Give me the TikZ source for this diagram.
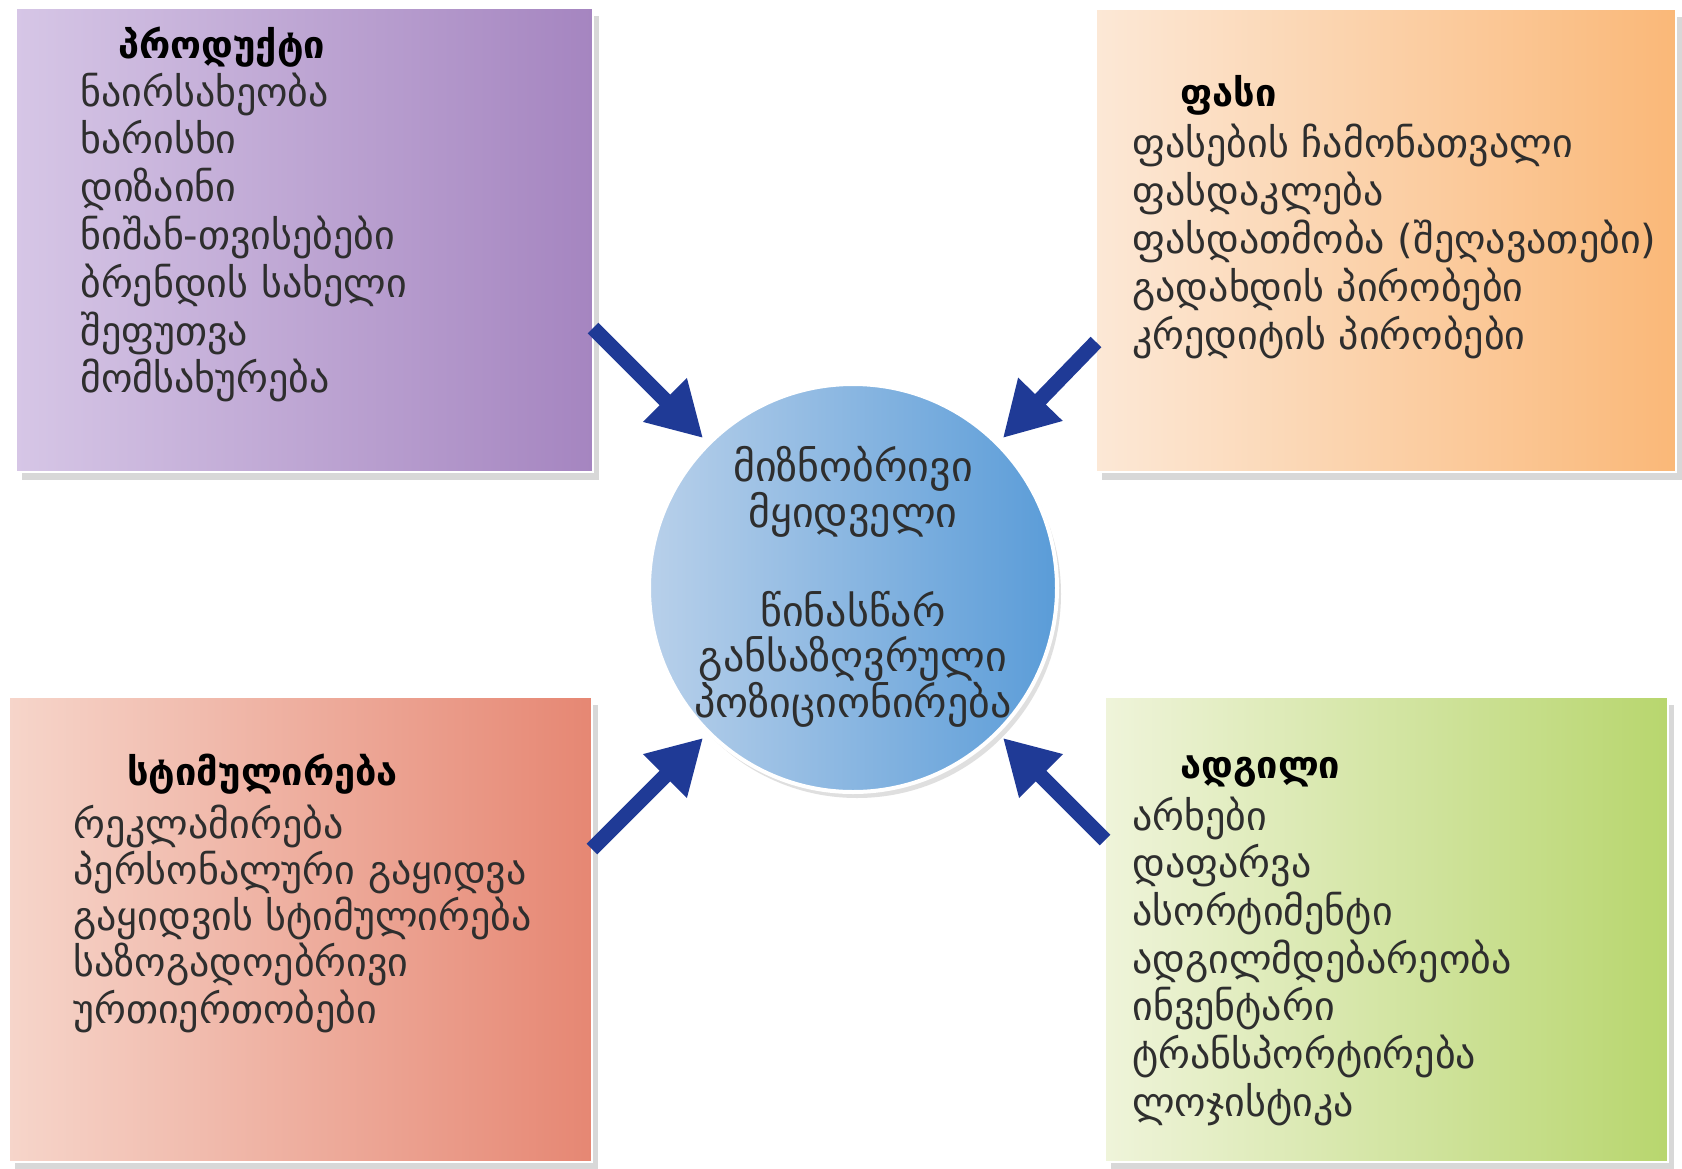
\documentclass[tikz,border=0pt]{standalone}
\usepackage{fontspec}
\setmainfont{DejaVu Sans}
\usetikzlibrary{shadows,arrows.meta}
\definecolor{purL}{HTML}{D6C6E6}
\definecolor{purR}{HTML}{A585C0}
\definecolor{oraL}{HTML}{FCE8D6}
\definecolor{oraR}{HTML}{FAB878}
\definecolor{salL}{HTML}{F6D5CA}
\definecolor{salR}{HTML}{E68773}
\definecolor{grnL}{HTML}{EFF4DA}
\definecolor{grnR}{HTML}{B8D66E}
\definecolor{cirL}{HTML}{B8D0EA}
\definecolor{cirR}{HTML}{5A9CD8}
\definecolor{arrowblue}{HTML}{1F3A96}
\definecolor{txt}{HTML}{2E2E2E}
\begin{document}
\begin{tikzpicture}[x=0.5pt,y=-0.5pt,
  box/.style={rectangle, draw=white, line width=1pt, inner sep=0pt,
    drop shadow={opacity=0.3,shadow xshift=3pt,shadow yshift=-4pt}},
  item/.style={anchor=base west, inner sep=0pt, font=\fontsize{20pt}{24pt}\selectfont, text=txt},
  ttl/.style={anchor=base west, inner sep=0pt, font=\fontsize{19pt}{23pt}\selectfont\bfseries, text=black},
  ctext/.style={anchor=base, inner sep=0pt, font=\fontsize{21pt}{25pt}\selectfont, text=txt},
  bigarrow/.style={draw=arrowblue, line width=7.5pt, -{Triangle[length=27pt,width=29pt]}}
]
\useasboundingbox (0,0) rectangle (1682,1168);
\fill[white] (0,0) rectangle (1682,1168);

% boxes
\node[box, minimum width=288.5pt, minimum height=232pt, left color=purL, right color=purR] (prod) at (304.5,240) {};
\node[box, minimum width=290pt, minimum height=231.5pt, left color=oraL, right color=oraR] (price) at (1386,240.5) {};
\node[box, minimum width=291.5pt, minimum height=232.5pt, left color=salL, right color=salR] (promo) at (300.5,929.5) {};
\node[box, minimum width=281.5pt, minimum height=232.5pt, left color=grnL, right color=grnR] (place) at (1386.5,929.5) {};

% centre circle
\node[circle, minimum size=204pt, draw=white, line width=2pt, left color=cirL, right color=cirR,
  drop shadow={opacity=0.25,shadow xshift=2pt,shadow yshift=-3pt}] (circ) at (853,588) {};

% arrows
\coordinate (s1) at (593,328);
\coordinate (s2) at (1096,342);
\coordinate (s3) at (592,849);
\coordinate (s4) at (1105,840);
\draw[bigarrow, shorten >=3pt] (s1) -- (circ.135);
\draw[bigarrow, shorten >=3pt] (s2) -- (circ.45);
\draw[bigarrow, shorten >=3pt] (s3) -- (circ.225);
\draw[bigarrow, shorten >=3pt] (s4) -- (circ.315);

% product
\node[ttl] (prodT) at (118,58) {პროდუქტი};
\foreach \t [count=\i] in {ნაირსახეობა,ხარისხი,დიზაინი,ნიშან-თვისებები,ბრენდის სახელი,შეფუთვა,მომსახურება}
  \node[item] (prod\i) at (80,{106+47.8*(\i-1)}) {\t};

% price
\node[ttl] (priceT) at (1180,106) {ფასი};
\foreach \t [count=\i] in {ფასების ჩამონათვალი,ფასდაკლება,ფასდათმობა (შეღავათები),გადახდის პირობები,კრედიტის პირობები}
  \node[item] (price\i) at (1132,{157+48.2*(\i-1)}) {\t};

% promotion
\node[ttl] (promoT) at (127,785) {სტიმულირება};
\foreach \t [count=\i] in {რეკლამირება,პერსონალური გაყიდვა,გაყიდვის სტიმულირება,საზოგადოებრივი,ურთიერთობები}
  \node[item] (promo\i) at (73,{838+46.3*(\i-1)}) {\t};

% place
\node[ttl] (placeT) at (1180,778) {ადგილი};
\foreach \t [count=\i] in {არხები,დაფარვა,ასორტიმენტი,ადგილმდებარეობა,ინვენტარი,ტრანსპორტირება,ლოჯისტიკა}
  \node[item] (place\i) at (1132,{830+47.7*(\i-1)}) {\t};

% circle text
\node[ctext] (c1) at (853,481) {მიზნობრივი};
\node[ctext] (c2) at (853,527) {მყიდველი};
\node[ctext] (c3) at (853,626) {წინასწარ};
\node[ctext] (c4) at (853,671) {განსაზღვრული};
\node[ctext] (c5) at (853,717) {პოზიციონირება};
\end{tikzpicture}
\end{document}
